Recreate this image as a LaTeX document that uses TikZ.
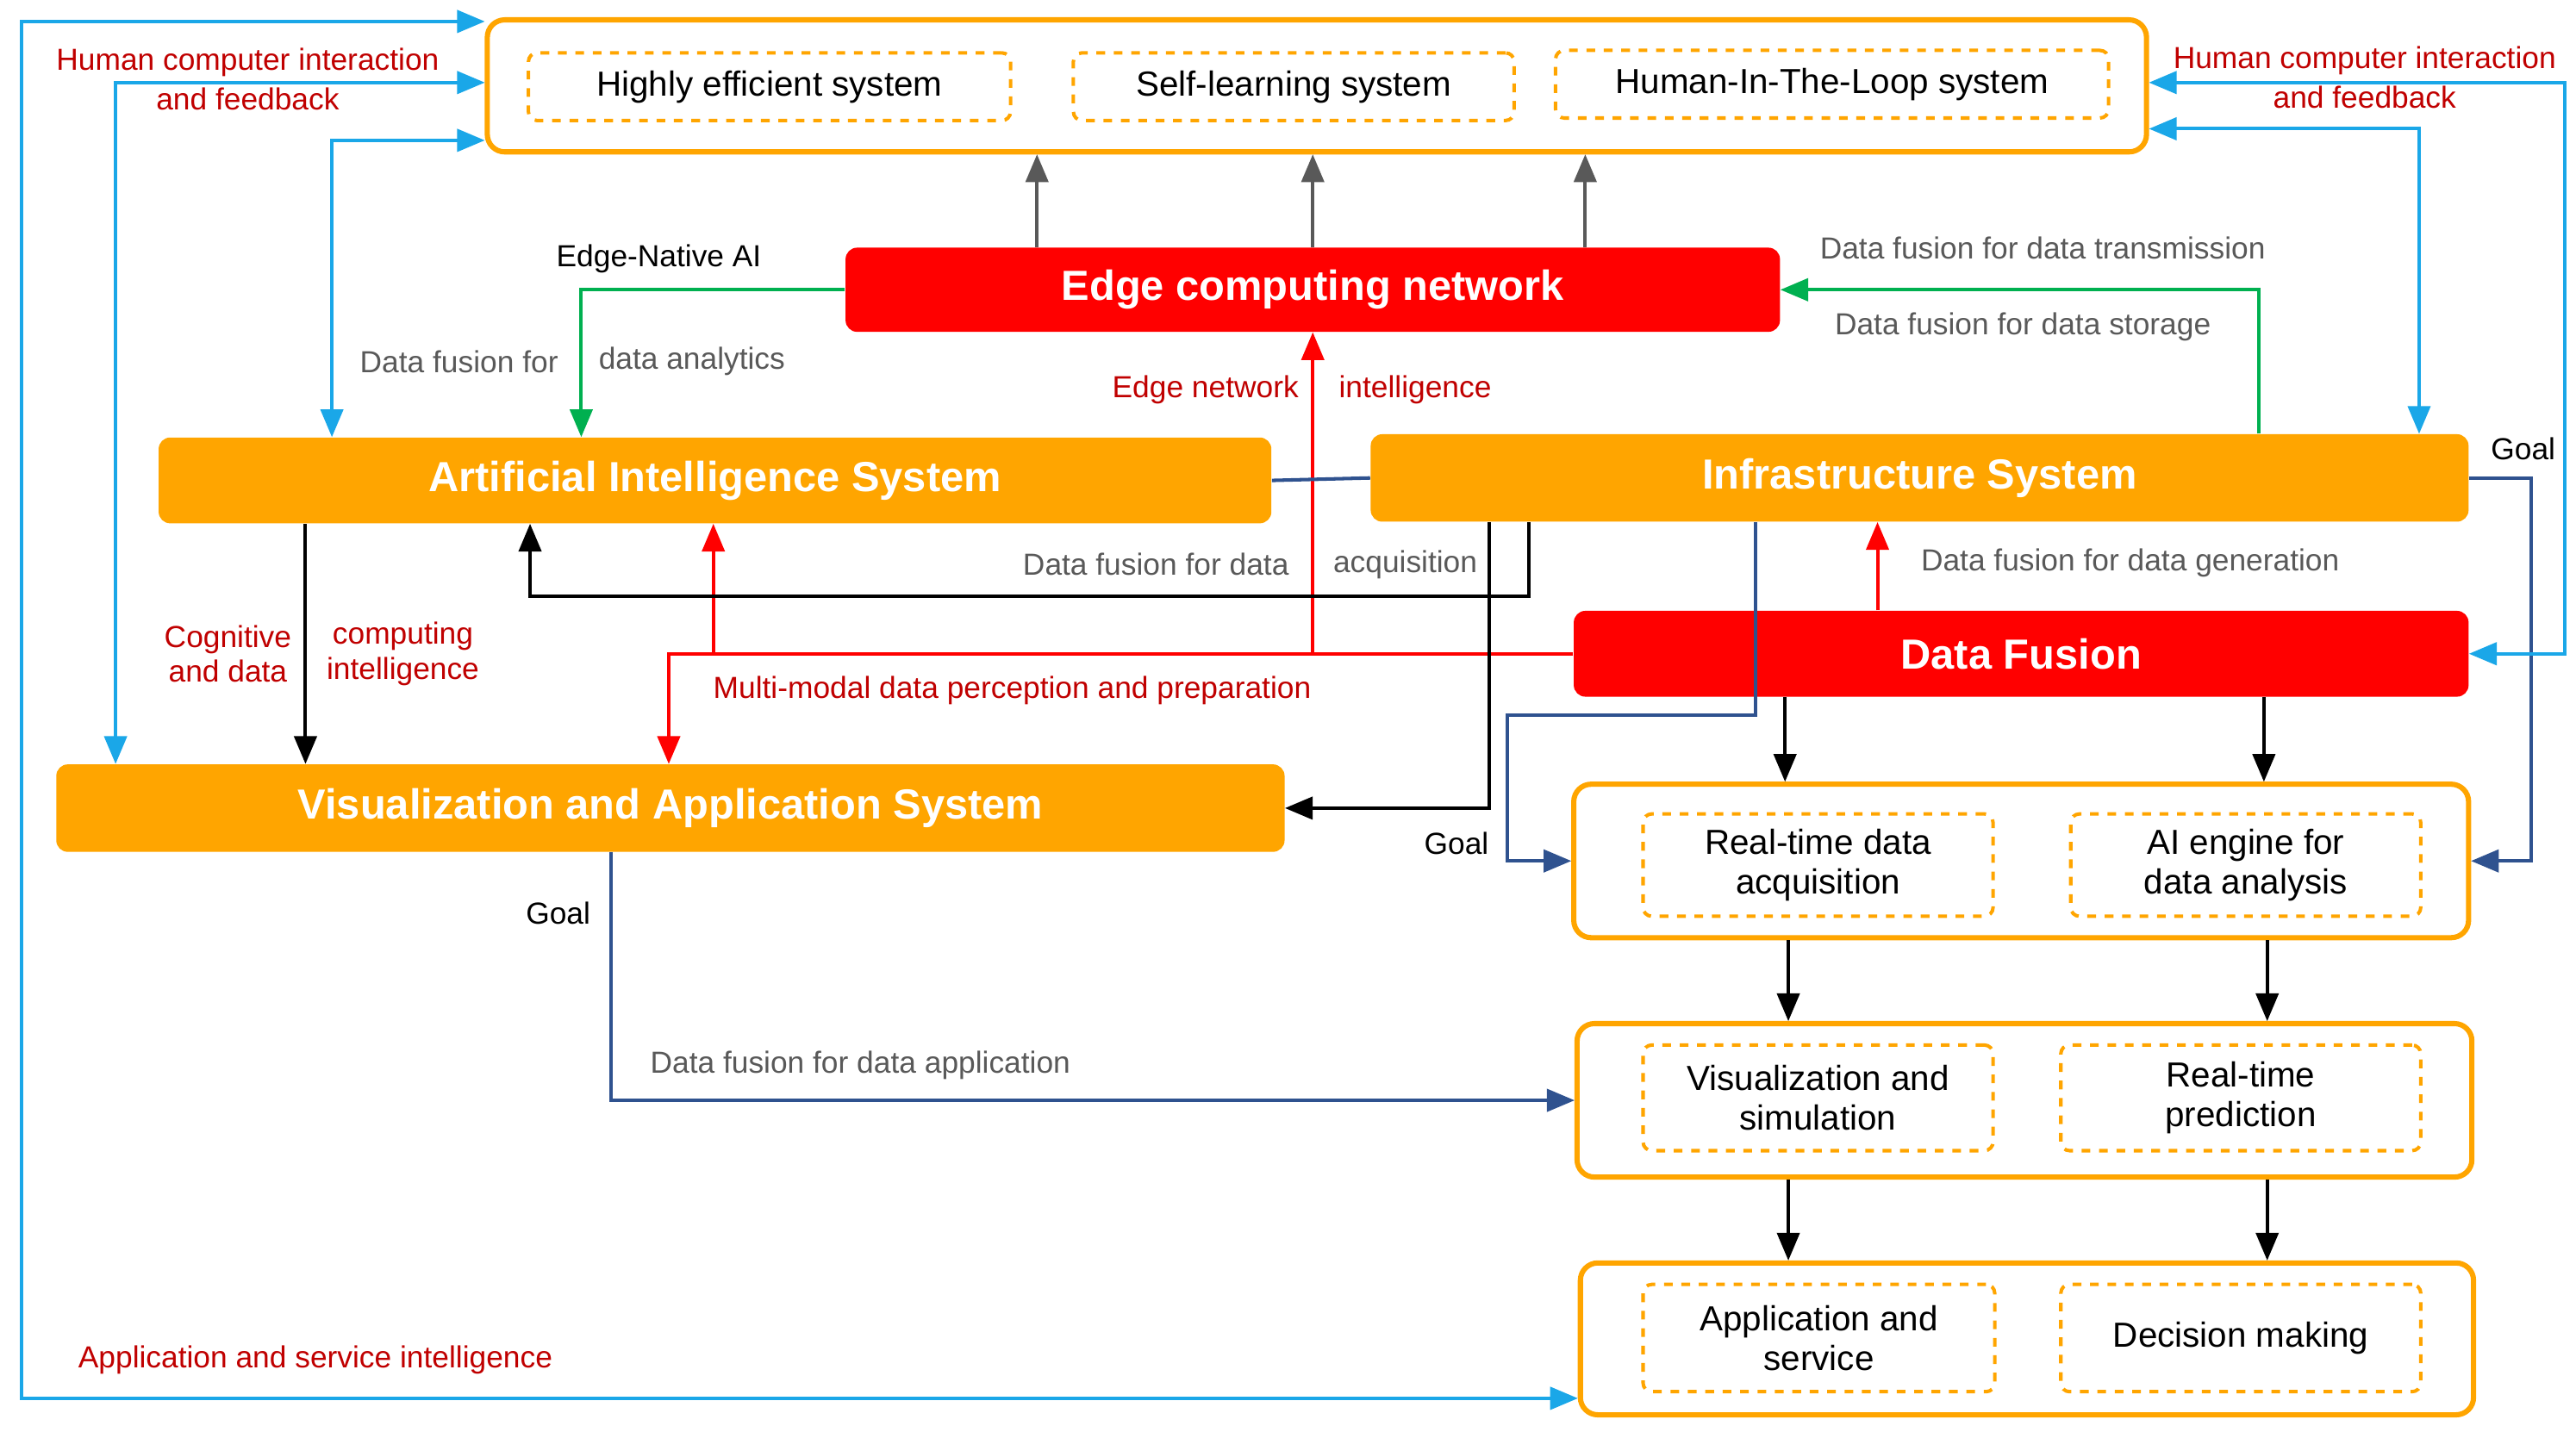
\documentclass[tikz,border=0pt]{standalone}
\usepackage{fontspec}
\setmainfont{Liberation Sans}
\usetikzlibrary{shapes,arrows}
\definecolor{boxorange}{HTML}{FFA500}
\definecolor{labred}{HTML}{C00000}
\definecolor{labgray}{HTML}{595959}
\definecolor{navy}{HTML}{2F528F}
\definecolor{fgreen}{HTML}{00B050}
\definecolor{skyblue}{HTML}{1AA7E8}
\begin{document}
\begin{tikzpicture}[%
    x=0.02cm, y=-0.02cm,       % pixel grid, top-left origin
    >=triangle 45,
    ]
% -------------------------------------------------
% Box and line styles
\tikzset{
  frame/.style={draw=boxorange, line width=1.8pt, rounded corners=6pt, fill=white},
  sub/.style={draw=boxorange, dashed, line width=1.2pt, rounded corners=3pt,
    align=center, font=\fontsize{12}{13.5}\selectfont, inner sep=1pt},
  sys/.style={fill=boxorange, rounded corners=4pt, text=white,
    font=\fontsize{14.5}{16}\selectfont\bfseries},
  hot/.style={sys, fill=red},
  conn/.style={->, line width=1.2pt},
  both/.style={<->, line width=1.2pt, draw=skyblue},
  gl/.style={text=labgray, font=\fontsize{10.5}{12}\selectfont},
  rl/.style={text=labred, font=\fontsize{10.5}{12}\selectfont, align=center},
  kl/.style={font=\fontsize{10.5}{12}\selectfont}
}
\useasboundingbox (0,0) rectangle (1560,867);
% -------------------------------------------------
% Boxes
\node [frame, minimum width=20.1cm, minimum height=1.6cm] (goals) at (797.5,52) {};
\node [sub, minimum width=5.84cm, minimum height=0.82cm] (eff) at (466,52.5) {Highly efficient system};
\node [sub, minimum width=5.34cm, minimum height=0.82cm] (self) at (783.5,52.5) {Self-learning system};
\node [sub, minimum width=6.7cm, minimum height=0.82cm] (hitl) at (1109.5,51) {Human-In-The-Loop system};

\node [hot, minimum width=11.32cm, minimum height=1.02cm] (edge) at (795,175.5) {Edge computing network};
\node [sys, minimum width=13.48cm, minimum height=1.04cm] (ai) at (433,291) {Artificial Intelligence System};
\node [sys, minimum width=13.3cm, minimum height=1.06cm] (infra) at (1162.5,289.5) {Infrastructure System};
\node [hot, minimum width=10.84cm, minimum height=1.04cm] (fusion) at (1224,396) {Data Fusion};
\node [sys, minimum width=14.88cm, minimum height=1.06cm] (vis) at (406,489.5) {Visualization and Application System};

\node [frame, minimum width=10.84cm, minimum height=1.86cm] (row1) at (1224,521.5) {};
\node [sub, minimum width=4.24cm, minimum height=1.24cm] (acq) at (1101,524) {Real-time data\\acquisition};
\node [sub, minimum width=4.24cm, minimum height=1.24cm] (engine) at (1360,524) {AI engine for\\data analysis};
\node [frame, minimum width=10.84cm, minimum height=1.86cm] (row2) at (1226,666.5) {};
\node [sub, minimum width=4.24cm, minimum height=1.28cm] (simu) at (1101,665) {Visualization and\\simulation};
\node [sub, minimum width=4.36cm, minimum height=1.28cm] (pred) at (1357,665) {Real-time\\prediction};
\node [frame, minimum width=10.82cm, minimum height=1.84cm] (row3) at (1227.5,811) {};
\node [sub, minimum width=4.26cm, minimum height=1.3cm] (service) at (1101.5,810.5) {Application and\\service};
\node [sub, minimum width=4.36cm, minimum height=1.3cm] (decide) at (1357,810.5) {Decision making};

% -------------------------------------------------
% Connectors
\foreach \x in {628,795,960}
  \draw [conn, draw=labgray] (edge.north -| \x,0) -- (goals.south -| \x,0);
\draw [conn, draw=fgreen] (edge.west) -| (ai.north -| 352,0);
\draw [conn, draw=fgreen] (infra.north -| 1368,0) |- (edge.east);

\draw [conn, draw=red] (fusion.west) -| (vis.north -| 405,0);
\draw [conn, draw=red] (fusion.west -| 432,0) -- (ai.south -| 432,0);
\draw [conn, draw=red] (fusion.west -| 795,0) -- (edge.south -| 795,0);
\draw [conn, draw=red] (fusion.north -| 1137,0) -- (infra.south -| 1137,0);

\draw [conn] (infra.south -| 926,0) |- (700,361) -| (ai.south -| 321,0);
\draw [conn] (infra.south -| 902,0) |- (vis.east);
\draw [conn] (ai.south -| 185,0) -- (vis.north -| 185,0);

\draw [line width=1.2pt, draw=navy] (ai.east) -- (infra.west);
\draw [conn, draw=navy] (infra.south -| 1063,0) |- (990,433) -| (913,480) |- (row1.west);
\draw [conn, draw=navy] (infra.east) -| (1533,400) |- (row1.east);
\draw [conn, draw=navy] (vis.south -| 370,0) |- (row2.west);

\foreach \x in {1081,1371}
  \draw [conn] (fusion.south -| \x,0) -- (row1.north -| \x,0);
\foreach \x in {1083,1373} {
  \draw [conn] (row1.south -| \x,0) -- (row2.north -| \x,0);
  \draw [conn] (row2.south -| \x,0) -- (row3.north -| \x,0);
}

\draw [both] (row3.west |- 0,847) -| (13,400) |- (goals.west |- 0,13);
\draw [both] (goals.west |- 0,50) -| (vis.north -| 70,0);
\draw [both] (goals.west |- 0,85) -| (ai.north -| 201,0);
\draw [both] (goals.east |- 0,50) -| (1553,300) |- (fusion.east);
\draw [both] (goals.east |- 0,78) -| (infra.north -| 1465,0);

% -------------------------------------------------
% Labels
\node [kl] (lnative) at (399,157) {Edge-Native AI};
\node [gl] (lanal1) at (278,219) {Data fusion for};
\node [gl] (lanal2) at (419,219) {data analytics};
\node [gl] (ltrans) at (1237,150) {Data fusion for data transmission};
\node [gl] (lstore) at (1225,198) {Data fusion for data storage};
\node [rl] (lnet1) at (730,236) {Edge network};
\node [rl] (lnet2) at (857,236) {intelligence};
\node [gl] (lacq1) at (700,342) {Data fusion for data};
\node [gl] (lacq2) at (851,342) {acquisition};
\node [gl] (lgen) at (1290,341) {Data fusion for data generation};
\node [rl] (lmulti) at (613,418) {Multi-modal data perception and preparation};
\node [rl] (lcog1) at (138,396) {Cognitive\\and data};
\node [rl] (lcog2) at (244,396) {computing\\intelligence};
\node [kl] (lgoal1) at (882,511) {Goal};
\node [kl] (lgoal2) at (1528,272) {Goal};
\node [kl] (lgoal3) at (338,553) {Goal};
\node [gl] (lapp) at (521,645) {Data fusion for data application};
\node [rl] (lserv) at (191,824) {Application and service intelligence};
\node [rl, font=\fontsize{10.5}{13.5}\selectfont] (lhci1) at (150,48) {Human computer interaction\\and feedback};
\node [rl, font=\fontsize{10.5}{13.5}\selectfont] (lhci2) at (1432,47) {Human computer interaction\\and feedback};
\end{tikzpicture}
\end{document}
